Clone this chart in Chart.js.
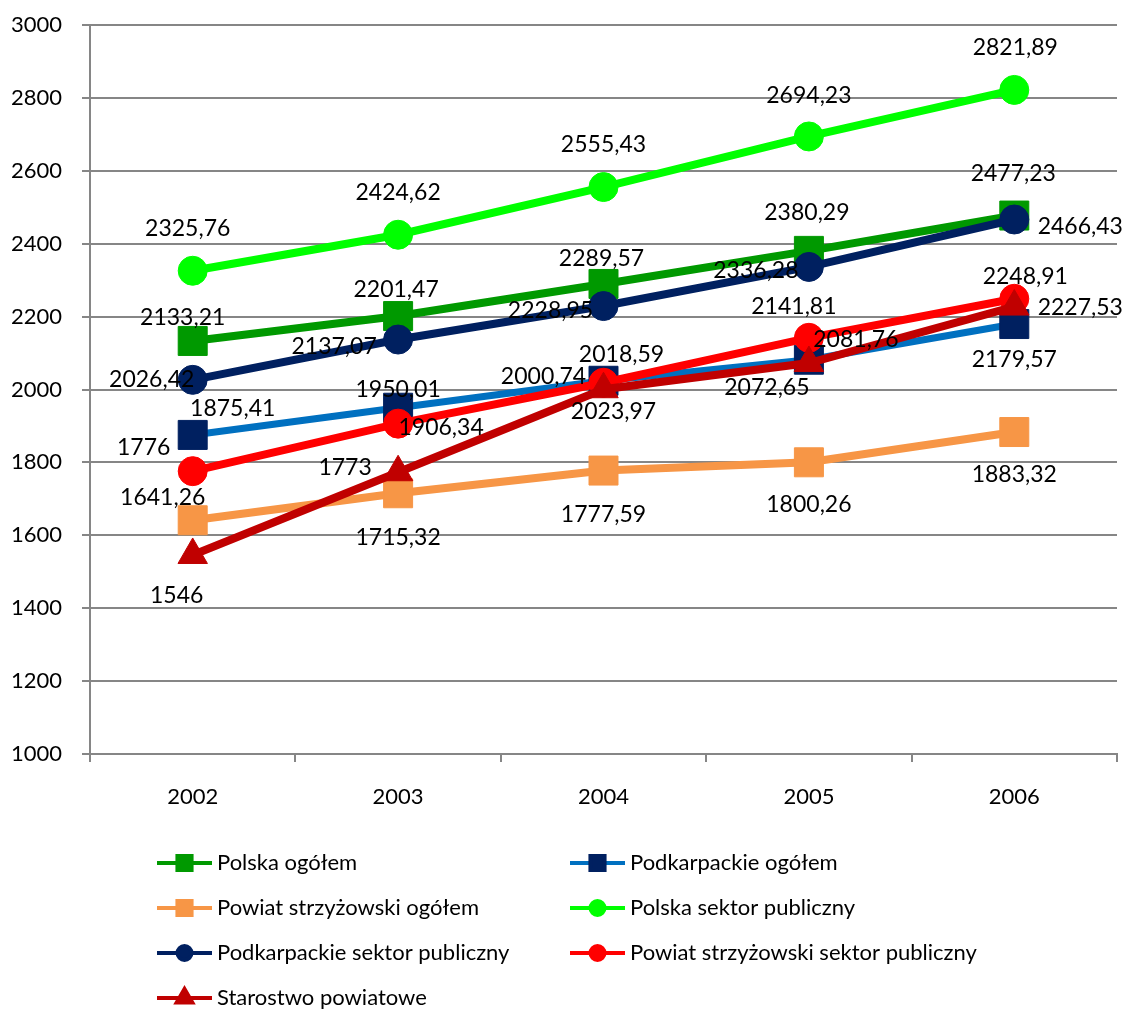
<!DOCTYPE html>
<html>
<head>
<meta charset="utf-8">
<script src="https://cdn.jsdelivr.net/npm/chart.js@4/dist/chart.umd.min.js"></script>
<style>
  html, body { margin: 0; padding: 0; background: #ffffff; }
  canvas { display: block; }
</style>
</head>
<body>
<canvas id="chart" width="1125" height="1010"></canvas>
<script>
// Years on the category axis
const years = ['2002', '2003', '2004', '2005', '2006'];

// Average monthly pay, one array per series
const polskaOgolem = [2133.21, 2201.47, 2289.57, 2380.29, 2477.23];
const podkarpackieOgolem = [1875.41, 1950.01, 2023.97, 2081.76, 2179.57];
const powiatOgolem = [1641.26, 1715.32, 1777.59, 1800.26, 1883.32];
const polskaPubliczny = [2325.76, 2424.62, 2555.43, 2694.23, 2821.89];
const podkarpackiePubliczny = [2026.42, 2137.07, 2228.95, 2336.28, 2466.43];
const powiatPubliczny = [1776, 1906.34, 2018.59, 2141.81, 2248.91];
const starostwo = [1546, 1773, 2000.74, 2072.65, 2227.53];

// Value-axis tick values
const yTicks = [1000, 1200, 1400, 1600, 1800, 2000, 2200, 2400, 2600, 2800, 3000];

// Series names
const seriesNames = [
  'Polska ogółem',
  'Podkarpackie ogółem',
  'Powiat strzyżowski ogółem',
  'Polska sektor publiczny',
  'Podkarpackie sektor publiczny',
  'Powiat strzyżowski sektor publiczny',
  'Starostwo powiatowe'
];

const FONT = 'Lato, "Open Sans", "DejaVu Sans", sans-serif';

// Label placement relative to each point [dx, dy], per series
const labelShift = [
  [[-10, -23], [-2, -26], [-2, -25], [-2, -38], [-1, -42]],
  [[40, -26], [0, -18], [10, 31], [47, -20], [0, 36]],
  [[-30, -23], [0, 44], [0, 44], [0, 42], [0, 43]],
  [[-5, -42], [0, -42], [0, -42], [0, -41], [1, -42]],
  [[-41, 0], [-64, 7], [-53, 5], [-53, 4], [66, 7]],
  [[-49, -24], [43, 4], [18, -28], [-15, -31], [11, -22]],
  [[-16, 41], [-53, -5], [-60, -13], [-42, 25], [66, 1]]
];

function series(i, data, lineColor, markColor, style, radius, width) {
  return {
    label: seriesNames[i],
    data: data,
    borderColor: lineColor,
    backgroundColor: markColor,
    borderWidth: width,
    pointStyle: style,
    pointRadius: radius,
    pointHoverRadius: radius,
    pointBackgroundColor: markColor,
    pointBorderColor: markColor,
    pointBorderWidth: 1,
    tension: 0,
    fill: false,
    order: 10 - i
  };
}

const datasets = [
  series(0, polskaOgolem, '#009900', '#009900', 'rect', 20.5, 8),
  series(1, podkarpackieOgolem, '#0070C0', '#002060', 'rect', 20.5, 7),
  series(2, powiatOgolem, '#F79646', '#F79646', 'rect', 20.5, 8),
  series(3, polskaPubliczny, '#00FF00', '#00FF00', 'circle', 14.5, 8),
  series(4, podkarpackiePubliczny, '#002060', '#002060', 'circle', 14.5, 8),
  series(5, powiatPubliczny, '#FF0000', '#FF0000', 'circle', 14.5, 8),
  series(6, starostwo, '#C00000', '#C00000', 'triangle', 17, 8)
];

// Value labels drawn above all lines
const valueLabels = {
  id: 'valueLabels',
  afterDatasetsDraw(chart) {
    const ctx = chart.ctx;
    ctx.save();
    ctx.font = '23px ' + FONT;
    ctx.fillStyle = '#000000';
    ctx.textAlign = 'center';
    ctx.textBaseline = 'middle';
    chart.data.datasets.forEach((ds, i) => {
      const meta = chart.getDatasetMeta(i);
      meta.data.forEach((pt, j) => {
        const text = String(ds.data[j]).replace('.', ',');
        const s = labelShift[i][j];
        ctx.fillText(text, pt.x + s[0], pt.y + s[1]);
      });
    });
    ctx.restore();
  }
};

// Two-column legend under the axis
const bottomLegend = {
  id: 'bottomLegend',
  afterDraw(chart) {
    const ctx = chart.ctx;
    const area = chart.chartArea;
    const colX = [157, 570];
    const rowY0 = area.bottom + 109;
    const rowGap = 45;
    const lineLen = 55;
    ctx.save();
    chart.data.datasets.forEach((ds, i) => {
      const x = colX[i % 2];
      const y = rowY0 + Math.floor(i / 2) * rowGap;
      ctx.strokeStyle = ds.borderColor;
      ctx.lineWidth = 4;
      ctx.lineCap = 'butt';
      ctx.beginPath();
      ctx.moveTo(x, y);
      ctx.lineTo(x + lineLen, y);
      ctx.stroke();
      const r = ds.pointStyle === 'rect' ? 10 : (ds.pointStyle === 'circle' ? 7 : 9);
      ctx.fillStyle = ds.pointBackgroundColor;
      ctx.strokeStyle = ds.pointBorderColor;
      Chart.helpers.drawPoint(ctx, { pointStyle: ds.pointStyle, radius: r, rotation: 0, borderWidth: 1 }, x + lineLen / 2, y);
      ctx.font = '22px ' + FONT;
      ctx.fillStyle = '#000000';
      ctx.textAlign = 'left';
      ctx.textBaseline = 'middle';
      ctx.fillText(ds.label, x + lineLen + 5, y);
    });
    ctx.restore();
  }
};

new Chart(document.getElementById('chart'), {
  type: 'line',
  data: { labels: years, datasets: datasets },
  plugins: [valueLabels, bottomLegend],
  options: {
    responsive: false,
    animation: false,
    devicePixelRatio: 1,
    layout: { autoPadding: false, padding: { top: 25, right: 8, left: 0, bottom: 0 } },
    plugins: {
      legend: { display: false },
      tooltip: { enabled: false }
    },
    scales: {
      x: {
        type: 'category',
        offset: true,
        grid: {
          offset: true,
          drawOnChartArea: false,
          drawTicks: true,
          tickLength: 8,
          color: '#868686',
          lineWidth: 2
        },
        border: { color: '#868686', width: 2 },
        ticks: {
          color: '#000000',
          font: { family: FONT, size: 22 },
          padding: 22,
          maxRotation: 0
        },
        afterFit(scale) {
          scale.height = 256;
          scale.paddingLeft = 0;
          scale.paddingRight = 0;
        }
      },
      y: {
        min: yTicks[0],
        max: yTicks[yTicks.length - 1],
        afterBuildTicks(scale) { scale.ticks = yTicks.map(v => ({ value: v })); },
        grid: {
          color: '#868686',
          lineWidth: 2,
          tickLength: 8
        },
        border: { color: '#868686', width: 2 },
        ticks: {
          color: '#000000',
          font: { family: FONT, size: 22 },
          padding: 20,
          callback: v => String(v)
        },
        afterFit(scale) {
          scale.width = 90;
          scale.paddingTop = 0;
          scale.paddingBottom = 0;
        }
      }
    }
  }
});
</script>
</body>
</html>
